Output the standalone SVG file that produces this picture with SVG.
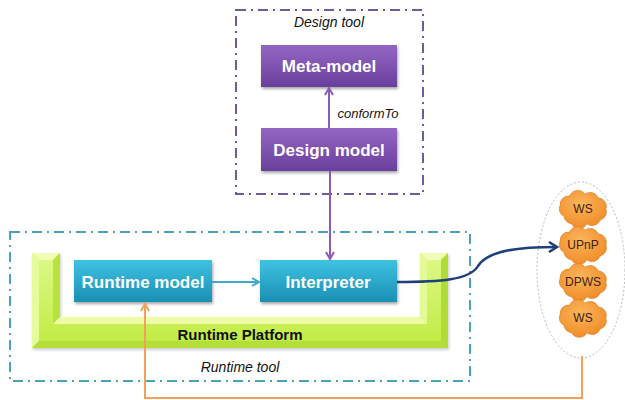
<svg xmlns="http://www.w3.org/2000/svg" width="625" height="400" viewBox="0 0 625 400">
<style>
.lbl{font-family:"Liberation Sans",Arial,sans-serif;font-weight:bold;font-size:17px;fill:#fff;text-anchor:middle}
.it{font-family:"Liberation Sans",Arial,sans-serif;font-style:italic;font-size:14px;fill:#111;text-anchor:middle}
.cl{font-family:"Liberation Sans",Arial,sans-serif;font-size:12px;fill:#3a2410;text-anchor:middle}
.cloud{fill:url(#gc);stroke:#e07e22;stroke-width:0.8}
</style>
<defs>
<linearGradient id="gp" x1="0" y1="0" x2="0" y2="1"><stop offset="0" stop-color="#9466c4"/><stop offset="1" stop-color="#6a3f9c"/></linearGradient>
<linearGradient id="gt" x1="0" y1="0" x2="0" y2="1"><stop offset="0" stop-color="#3fc2e2"/><stop offset="1" stop-color="#1a8fb4"/></linearGradient>
<linearGradient id="gg" x1="0" y1="0" x2="0" y2="1"><stop offset="0" stop-color="#dcf884"/><stop offset="1" stop-color="#c2ec46"/></linearGradient>
<radialGradient id="gc" cx="0.45" cy="0.35" r="0.7"><stop offset="0" stop-color="#fbb55a"/><stop offset="1" stop-color="#ef8a26"/></radialGradient>
<filter id="sh" x="-10%" y="-10%" width="130%" height="140%"><feDropShadow dx="1" dy="2" stdDeviation="1.5" flood-color="#000" flood-opacity="0.35"/></filter>
<filter id="sh2" x="-5%" y="-5%" width="110%" height="120%"><feDropShadow dx="1" dy="2" stdDeviation="1.5" flood-color="#000" flood-opacity="0.2"/></filter>
<marker id="ap" markerWidth="10" markerHeight="10" refX="8" refY="5" orient="auto" markerUnits="userSpaceOnUse"><path d="M1,1 L8,5 L1,9" fill="none" stroke="#8a5cb8" stroke-width="2"/></marker>
<marker id="at" markerWidth="10" markerHeight="10" refX="8" refY="5" orient="auto" markerUnits="userSpaceOnUse"><path d="M1,1 L8,5 L1,9" fill="none" stroke="#3fa9c9" stroke-width="2"/></marker>
<marker id="ab" markerWidth="12" markerHeight="12" refX="9" refY="6" orient="auto" markerUnits="userSpaceOnUse"><path d="M1,1 L9,6 L1,11" fill="none" stroke="#1f3f7a" stroke-width="2.5"/></marker>
<marker id="ao" markerWidth="10" markerHeight="10" refX="8" refY="5" orient="auto" markerUnits="userSpaceOnUse"><path d="M1,1 L8,5 L1,9" fill="none" stroke="#f5a05a" stroke-width="2"/></marker>
<path id="cloud" d="M-20,8 a9,9 0 0 1 -4,-12 a9,9 0 0 1 10,-10 a9,9 0 0 1 16,-2 a9,9 0 0 1 14,4 a9,9 0 0 1 8,12 a9,9 0 0 1 -6,12 a9,9 0 0 1 -14,4 a9,9 0 0 1 -16,0 a9,9 0 0 1 -8,-8 z"/>
</defs>
<rect width="625" height="400" fill="#fff"/>

<g id="design-tool">
<rect x="236" y="10" width="187" height="184" fill="none" stroke="#6e5a9e" stroke-width="2" stroke-dasharray="10 5 2 5"/>
<text class="it" x="329" y="27">Design tool</text>
</g>

<g id="runtime-tool">
<rect x="10" y="232" width="460" height="149" fill="none" stroke="#4aa3bb" stroke-width="2" stroke-dasharray="10 5 2 5"/>
<text class="it" x="240" y="372">Runtime tool</text>
</g>

<g id="runtime-platform">
<path d="M32,253 H60 V317 H420 V253 H448 V348 H32 Z" fill="#c6ee4c" filter="url(#sh2)"/>
<path d="M39,260 H53 V324 H427 V260 H441 V341 H39 Z" fill="url(#gg)"/>
<path d="M32,253 H60 L53,260 H39 Z" fill="#f0fdb4"/>
<path d="M32,253 L39,260 V341 L32,348 Z" fill="#e6fb9c"/>
<path d="M60,253 V317 L53,324 V260 Z" fill="#b8e23c"/>
<path d="M60,317 H420 L427,324 H53 Z" fill="#eefcaa"/>
<path d="M420,253 H448 L441,260 H427 Z" fill="#f0fdb4"/>
<path d="M420,253 L427,260 V324 L420,317 Z" fill="#e4fa96"/>
<path d="M448,253 V348 L441,341 V260 Z" fill="#b0dc34"/>
<path d="M32,348 H448 L441,341 H39 Z" fill="#b4de38"/>
<text x="240" y="340" font-family="'Liberation Sans',Arial,sans-serif" font-weight="bold" font-size="15" fill="#111" text-anchor="middle">Runtime Platform</text>
</g>

<g id="meta-model">
<rect x="261" y="45" width="136" height="42" fill="url(#gp)" filter="url(#sh)"/>
<text class="lbl" x="329" y="72">Meta-model</text>
</g>

<g id="design-model">
<rect x="261" y="128" width="136" height="43" fill="url(#gp)" filter="url(#sh)"/>
<text class="lbl" x="329" y="156">Design model</text>
</g>

<g id="runtime-model">
<rect x="74" y="260" width="138" height="42" fill="url(#gt)" filter="url(#sh)"/>
<text class="lbl" x="143" y="288">Runtime model</text>
</g>

<g id="interpreter">
<rect x="260" y="260" width="137" height="42" fill="url(#gt)" filter="url(#sh)"/>
<text class="lbl" x="328" y="288">Interpreter</text>
</g>

<g id="services">
<ellipse cx="581" cy="270" rx="44" ry="88" fill="none" stroke="#b8b8b8" stroke-width="1" stroke-dasharray="2 2"/>
<g id="ws1"><use href="#cloud" class="cloud" transform="translate(583,209) scale(0.95,0.92)"/><text class="cl" x="583" y="213">WS</text></g>
<g id="upnp"><use href="#cloud" class="cloud" transform="translate(583,245) scale(0.95,0.92)"/><text class="cl" x="583" y="249">UPnP</text></g>
<g id="dpws"><use href="#cloud" class="cloud" transform="translate(583,282) scale(0.95,0.92)"/><text class="cl" x="583" y="286">DPWS</text></g>
<g id="ws2"><use href="#cloud" class="cloud" transform="translate(583,318) scale(0.95,0.92)"/><text class="cl" x="583" y="322">WS</text></g>
</g>

<g id="connectors" fill="none">
<line x1="329" y1="128" x2="329" y2="88" stroke="#8a5cb8" stroke-width="2" marker-end="url(#ap)"/>
<text x="368" y="118" font-family="'Liberation Sans',Arial,sans-serif" font-style="italic" font-size="13" fill="#111" text-anchor="middle">conformTo</text>
<line x1="330" y1="171" x2="330" y2="259" stroke="#8a5cb8" stroke-width="2" marker-end="url(#ap)"/>
<line x1="212" y1="282" x2="259" y2="282" stroke="#3fa9c9" stroke-width="2" marker-end="url(#at)"/>
<path d="M397,282 C440,282 470,280 478,266 C488,250 520,247 557,247" stroke="#1f3f7a" stroke-width="2.5" marker-end="url(#ab)"/>
<path d="M582,356 V398 H145 V304" stroke="#f5a05a" stroke-width="2" marker-end="url(#ao)"/>
</g>
</svg>
